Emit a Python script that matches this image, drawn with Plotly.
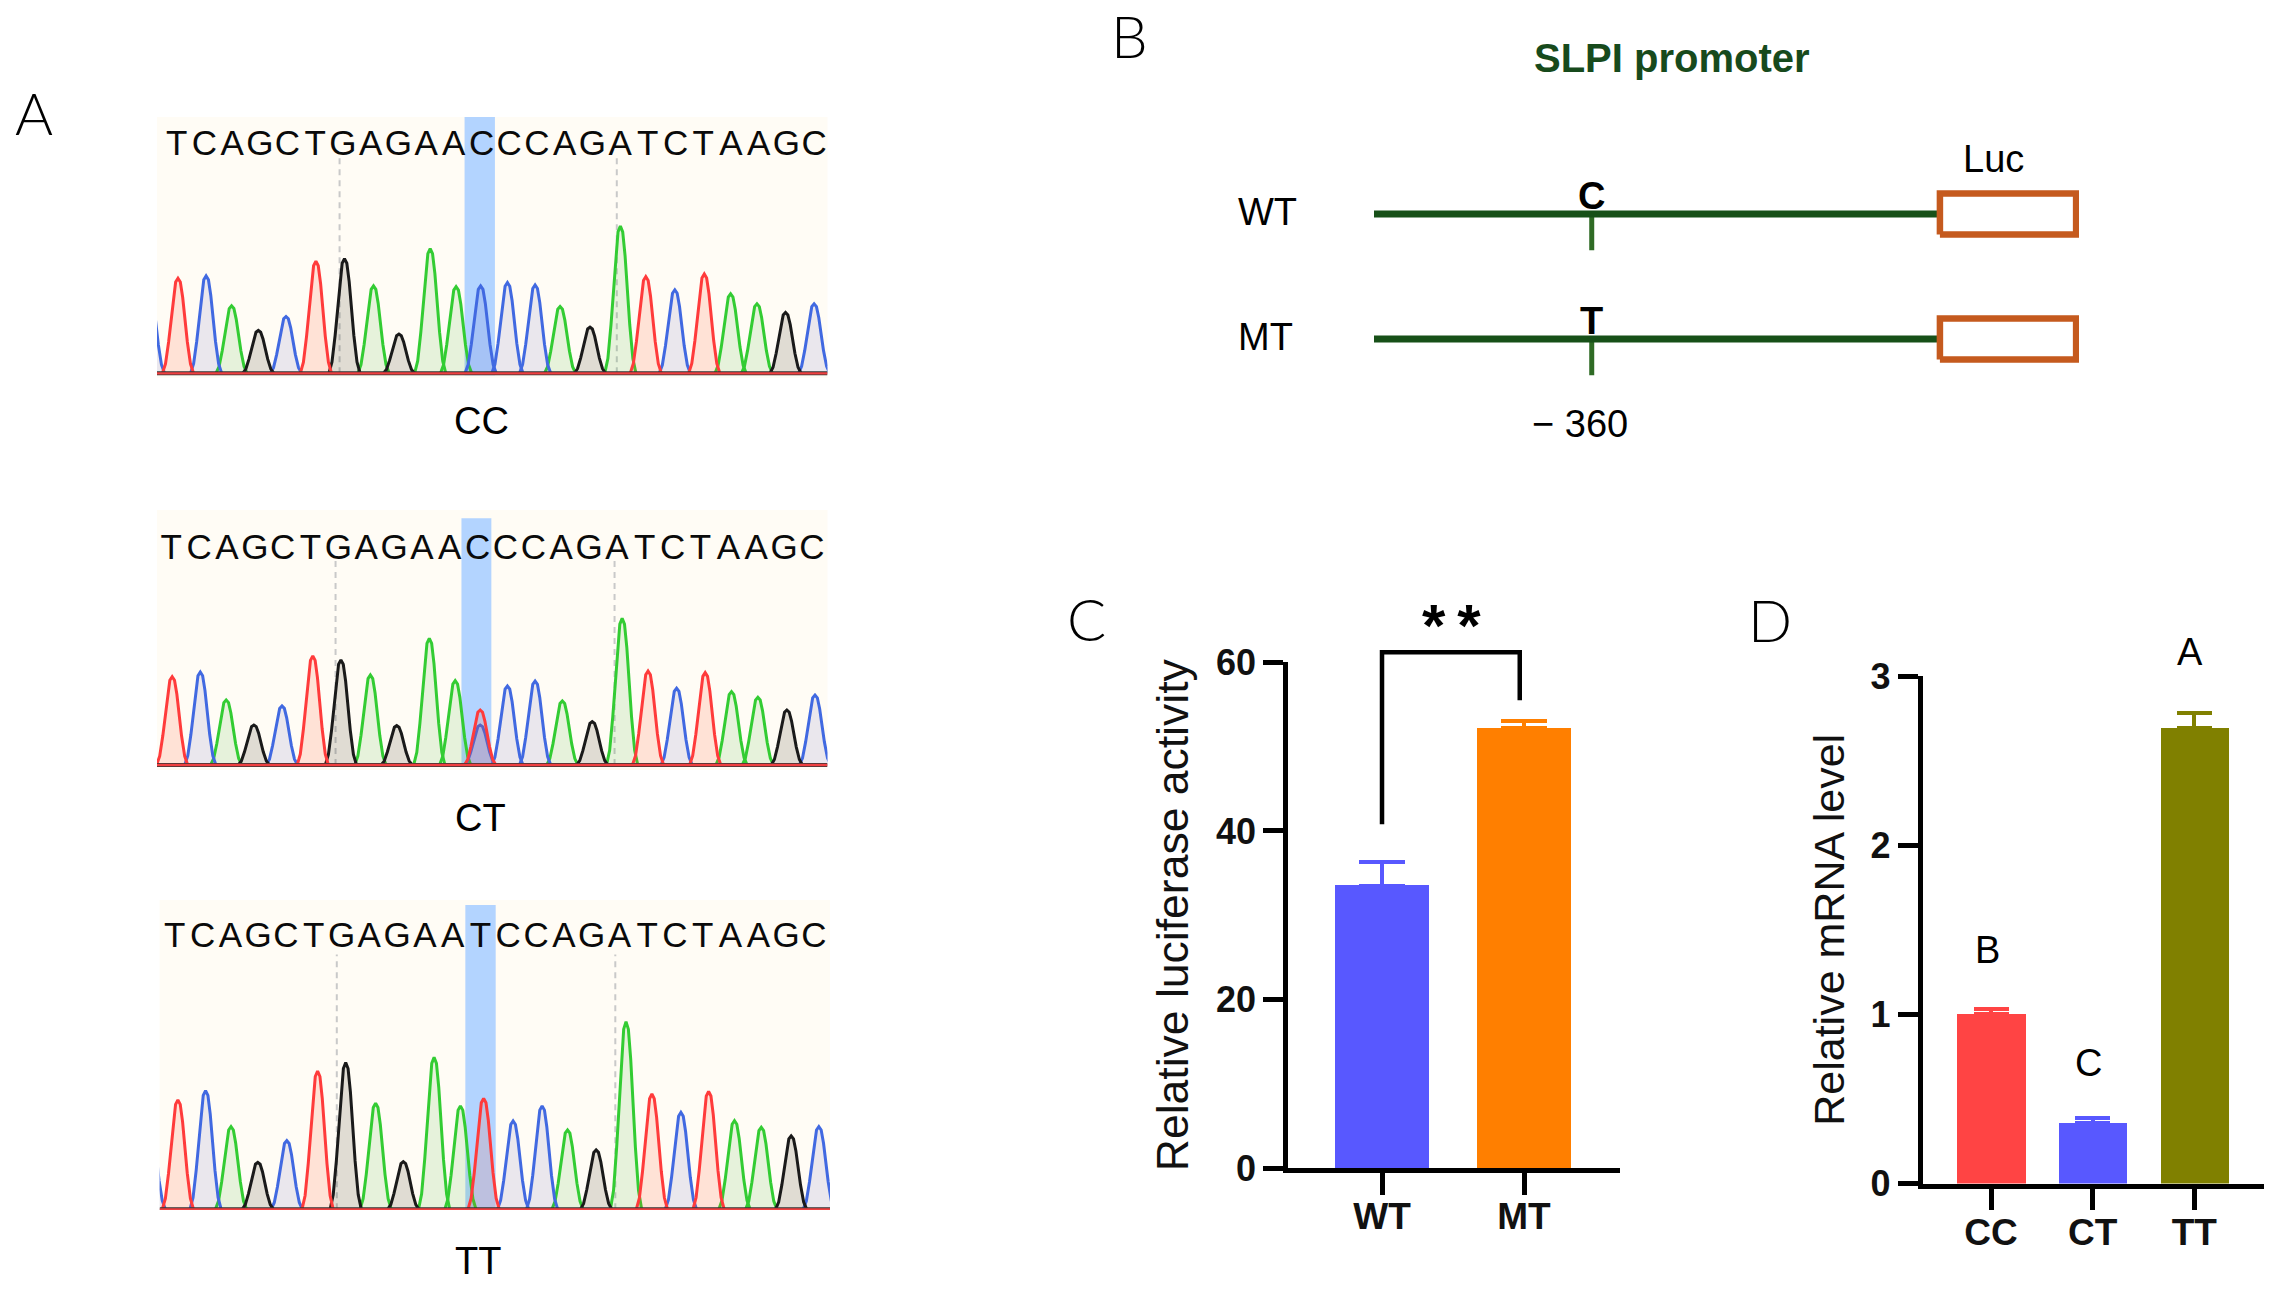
import plotly.graph_objects as go

W, H = 2278, 1291
SANS = "Liberation Sans"

# ---------- Panel A: chromatogram peaks (scan position, signal, base colour) ----------
CC_X = [20, 85, 148, 205, 265, 327, 394, 458, 523, 580, 650, 708, 763, 823, 885, 941, 1008, 1076, 1133, 1198, 1264, 1323, 1382, 1446, 1510]
CC_H = [261, 286, 293, 203, 129, 171, 337, 345, 263, 118, 375, 261, 263, 273, 266, 201, 139, 443, 291, 251, 299, 239, 209, 183, 209]
CC_B = "BRBGKBRKGKGGBBBGKGRBRGGKB"
CC_SEQ = "TCAGCTGAGAACCCAGATCTAAGC"
CC_DASH = [447, 1068]

CT_X = [72, 135, 193, 255, 318, 387, 450, 516, 575, 648, 706, 762, 762, 823, 885, 946, 1013, 1080, 1138, 1202, 1266, 1325, 1384, 1449, 1512]
CT_H = [265, 279, 195, 120, 177, 327, 315, 270, 118, 380, 253, 120, 165, 237, 252, 192, 130, 440, 282, 230, 277, 220, 203, 165, 210]
CT_B = "RBGKBRKGKGGBRBBGKGRBRGGKB"
CT_SEQ = "TCAGCTGAGAACCCAGATCTAAGC"
CT_DASH = [438, 1063]

TT_X = [22, 85, 147, 204, 264, 329, 398, 461, 528, 590, 659, 718, 770, 836, 901, 958, 1022, 1089, 1147, 1212, 1274, 1332, 1392, 1459, 1521]
TT_H = [258, 328, 356, 248, 141, 206, 415, 440, 318, 143, 456, 310, 333, 265, 310, 238, 178, 563, 346, 291, 354, 266, 246, 220, 248]
TT_B = "BRBGKBRKGKGGRBBGKGRBRGGKB"
TT_SEQ = "TCAGCTGAGAATCCAGATCTAAGC"
TT_DASH = [441, 1065]

GENOTYPE_LABELS = ["CC", "CT", "TT"]

# ---------- Panel B ----------
PROMOTER_ROWS = ["WT", "MT"]
PROMOTER_ALLELES = ["C", "T"]
PROMOTER_START = -587
SNP_POSITION = -360
LUC_START = 0
LUC_END = 148

# ---------- Panel C ----------
C_CATS = ["WT", "MT"]
C_VALS = [33.5, 52.2]
C_ERR = [2.8, 0.8]
C_COLORS = ["#5858FF", "#FF7F00"]
C_TICKS = [0, 20, 40, 60]

# ---------- Panel D ----------
D_CATS = ["CC", "CT", "TT"]
D_VALS = [1.0, 0.36, 2.69]
D_ERR = [0.03, 0.03, 0.09]
D_COLORS = ["#FF4444", "#5858FF", "#808000"]
D_LETTERS = ["B", "C", "A"]
D_LETTER_Y = [1.38, 0.71, 3.14]
D_TICKS = [0, 1, 2, 3]

# ---------- styles ----------
LINE = {"R": "#FF3B3B", "B": "#4169E1", "G": "#33CC33", "K": "#1A1A1A"}
FILL = {"R": "rgba(255,70,30,0.14)", "B": "rgba(65,65,170,0.11)", "G": "rgba(50,170,30,0.12)", "K": "rgba(50,40,20,0.15)"}
PROFILE_DX = [-1, -.8, -.6, -.45, -.3, -.15, 0, .15, .3, .45, .6, .8, 1]
PROFILE_F = [0, .1, .33, .56, .8, .96, 1, .96, .8, .56, .33, .1, 0]
PEAK_HALF = 35


def xd(a, b):
    return [a / W, b / W]


def yd(top, bottom):
    return [1 - bottom / H, 1 - top / H]


fig = go.Figure()
layout = dict(
    width=W, height=H, margin=dict(l=0, r=0, t=0, b=0, pad=0, autoexpand=False), autosize=False,
    paper_bgcolor="white", plot_bgcolor="rgba(0,0,0,0)", showlegend=False,
    font=dict(family=SANS, color="black"), shapes=[], annotations=[],
    bargap=0,
)


def hidden(domain, rng):
    return dict(domain=domain, range=rng, visible=False, fixedrange=True)


def chromatogram(i, xs, hs, bases, seq, dash, seq_x, seq_y, px, py, xr, yr, hl, hl_top):
    s = "" if i == 1 else str(i)
    layout[f"xaxis{s}"] = dict(hidden(xd(*px), xr), anchor=f"y{s}")
    layout[f"yaxis{s}"] = dict(hidden(yd(*py), yr), anchor=f"x{s}")
    layout["shapes"].append(dict(type="rect", xref=f"x{s} domain", yref=f"y{s} domain", x0=0, x1=1, y0=0, y1=1,
                                 fillcolor="#FFFCF5", line_width=0, layer="below"))
    layout["shapes"].append(dict(type="rect", xref=f"x{s}", yref=f"y{s}", x0=hl[0], x1=hl[1], y0=yr[0] + 0.6 * (0 - yr[0]), y1=hl_top,
                                 fillcolor="#B3D4FF", line_width=0, layer="below"))
    for d in dash:
        fig.add_trace(go.Scatter(x=[d, d], y=[0, hl_top - 0.16 * yr[1]], mode="lines", xaxis=f"x{s}", yaxis=f"y{s}",
                                 line=dict(color="#C9C9C9", width=2, dash="6px,5px"), hoverinfo="skip"))
    for b in "GBKR":
        px_, py_ = [], []
        for x, h, c in zip(xs, hs, bases):
            if c == b:
                px_ += [x + d * PEAK_HALF for d in PROFILE_DX] + [None]
                py_ += [h * f for f in PROFILE_F] + [None]
        fig.add_trace(go.Scatter(x=px_, y=py_, mode="lines", fill="toself", fillcolor=FILL[b], xaxis=f"x{s}", yaxis=f"y{s}",
                                 line=dict(color=LINE[b], width=3), hoverinfo="skip"))
    fig.add_trace(go.Scatter(x=xr, y=[0, 0], mode="lines", xaxis=f"x{s}", yaxis=f"y{s}", line=dict(color="#333333", width=4), hoverinfo="skip"))
    fig.add_trace(go.Scatter(x=xr, y=[0, 0], mode="lines", xaxis=f"x{s}", yaxis=f"y{s}", line=dict(color="#F04040", width=2.4), hoverinfo="skip"))
    step = (seq_x[1] - seq_x[0]) / (len(seq) - 1)
    fig.add_trace(go.Scatter(x=[seq_x[0] + k * step for k in range(len(seq))], y=[seq_y] * len(seq), text=list(seq),
                             mode="text", textposition="middle center", xaxis=f"x{s}", yaxis=f"y{s}",
                             textfont=dict(family=SANS, size=35, color="#0A0A0A"), hoverinfo="skip"))


chromatogram(1, CC_X, CC_H, CC_B, CC_SEQ, CC_DASH, (82, 1510), 683, (157, 827.5), (117, 378), [38, 1540], [-14, 771], (727, 795), 771)
chromatogram(2, CT_X, CT_H, CT_B, CT_SEQ, CT_DASH, (70, 1505), 645, (157, 827.5), (510, 770), [38, 1540], [-15, 765], (720, 787), 740)
chromatogram(3, TT_X, TT_H, TT_B, TT_SEQ, TT_DASH, (78, 1510), 814, (159.6, 830), (900, 1210), [44, 1546], [-2, 928], (729, 797), 913)


def note(x, y, text, size, xref="paper", yref="paper", bold=False, color="black", family=SANS, weight=None):
    f = dict(family=family, size=size, color=color)
    if bold:
        f["weight"] = "bold"
    if weight:
        f["weight"] = weight
    if xref == "paper":
        x = x / W
    if yref == "paper":
        y = 1 - y / H
    layout["annotations"].append(dict(x=x, y=y, xref=xref, yref=yref, text=text, showarrow=False, font=f,
                                      xanchor="center", yanchor="middle"))


for label, (lx, ly) in zip(GENOTYPE_LABELS, [(481, 421), (480, 818), (478, 1261)]):
    note(lx, ly, label, 38)

for label, (lx, ly) in zip("ABCD", [(34, 113), (1129, 36), (1086, 618), (1770, 619)]):
    note(lx, ly, label, 58, family="Lato", weight=300)

# ---------- Panel B ----------
layout["xaxis4"] = dict(hidden(xd(1374, 2079), [PROMOTER_START, LUC_END]), anchor="y4")
layout["yaxis4"] = dict(hidden(yd(170, 400), [-0.488, 1.352]), anchor="x4")
for row_y, label, allele in zip([1, 0], PROMOTER_ROWS, PROMOTER_ALLELES):
    fig.add_trace(go.Scatter(x=[SNP_POSITION, SNP_POSITION], y=[row_y, row_y - 0.29], mode="lines", xaxis="x4", yaxis="y4",
                             line=dict(color="#2F6B25", width=5), hoverinfo="skip"))
    fig.add_trace(go.Scatter(x=[PROMOTER_START, LUC_START], y=[row_y, row_y], mode="lines", xaxis="x4", yaxis="y4",
                             line=dict(color="#175018", width=7), hoverinfo="skip"))
    fig.add_trace(go.Scatter(x=[LUC_START + 3, LUC_END - 3, LUC_END - 3, LUC_START + 3, LUC_START + 3],
                             y=[row_y - 0.164, row_y - 0.164, row_y + 0.164, row_y + 0.164, row_y - 0.164],
                             mode="lines", xaxis="x4", yaxis="y4", fill="toself", fillcolor="white",
                             line=dict(color="#C55A1E", width=6.5), hoverinfo="skip"))
    note(SNP_POSITION, row_y + 0.145, allele, 38, xref="x4", yref="y4", bold=True)
note(1672, 58, "SLPI promoter", 40, bold=True, color="#174A1C")
note(1267, 212, "WT", 38)
note(1265, 337, "MT", 38)
note(1993, 159, "Luc", 38)
note(1580, 424, "− 360", 38)


# ---------- Panels C, D ----------
def bar_axes(i, px, py, xr, yr, cats, ticks, title, tsize, standoff):
    s = str(i)
    layout[f"xaxis{s}"] = dict(domain=xd(*px), range=xr, anchor=f"y{s}", tickmode="array", tickvals=list(range(len(cats))), ticktext=cats,
                               showline=True, linecolor="black", linewidth=4.5, ticks="outside", ticklen=22, tickwidth=4.5,
                               tickcolor="black", showgrid=False, zeroline=False, fixedrange=True, automargin=False,
                               ticklabelstandoff=-10,
                               tickfont=dict(family=SANS, size=37, weight="bold", color="#111111"))
    layout[f"yaxis{s}"] = dict(domain=yd(*py), range=yr, anchor=f"x{s}", tickmode="array", tickvals=ticks, ticktext=[str(t) for t in ticks],
                               showline=True, linecolor="black", linewidth=4.5, ticks="outside", ticklen=20, tickwidth=4.5,
                               tickcolor="black", showgrid=False, zeroline=False, fixedrange=True, automargin=False,
                               tickfont=dict(family=SANS, size=36, weight="bold", color="#111111"),
                               title=dict(text=title, font=dict(family=SANS, size=tsize, color="#111111"), standoff=standoff))


bar_axes(5, (1288, 1620), (662.4, 1168), [-0.662, 1.676], [0, 60], C_CATS, C_TICKS, "Relative luciferase activity", 44.5, 15)
bar_axes(6, (1922.5, 2264), (676, 1183.6), [-0.675, 2.686], [0, 3], D_CATS, D_TICKS, "Relative mRNA level", 43, 14)

# hidden axes sharing the same scale as C and D, with headroom above the drawn axis line
layout["xaxis7"] = dict(hidden(xd(1288, 1620), [-0.662, 1.676]), anchor="y7")
layout["yaxis7"] = dict(hidden(yd(590, 1168), [0, 60 * (1168 - 590) / (1168 - 662.4)]), anchor="x7")
layout["xaxis8"] = dict(hidden(xd(1922.5, 2264), [-0.675, 2.686]), anchor="y8")
layout["yaxis8"] = dict(hidden(yd(620, 1183.6), [0, 3 * (1183.6 - 620) / (1183.6 - 676)]), anchor="x8")

for k in range(len(C_CATS)):
    fig.add_trace(go.Bar(x=[k], y=[C_VALS[k]], width=0.66, marker=dict(color=C_COLORS[k], line_width=0), xaxis="x5", yaxis="y5",
                         error_y=dict(type="data", symmetric=False, array=[C_ERR[k]], arrayminus=[0], color=C_COLORS[k], thickness=4, width=23),
                         hoverinfo="skip"))
for k in range(len(D_CATS)):
    fig.add_trace(go.Bar(x=[k], y=[D_VALS[k]], width=0.675, marker=dict(color=D_COLORS[k], line_width=0), xaxis="x6", yaxis="y6",
                         error_y=dict(type="data", symmetric=False, array=[D_ERR[k]], arrayminus=[0], color=D_COLORS[k], thickness=4, width=17.5),
                         hoverinfo="skip"))
    note(k - 0.04, D_LETTER_Y[k], D_LETTERS[k], 38, xref="x8", yref="y8")

BRACKET_X = [0, 0, 0.97, 0.97]
BRACKET_Y = [40.8, 61.2, 61.2, 55.5]
fig.add_trace(go.Scatter(x=BRACKET_X, y=BRACKET_Y, mode="lines", xaxis="x7", yaxis="y7",
                         line=dict(color="black", width=4.5), hoverinfo="skip"))
note(0.49, 64.4, "*\u2009*", 60, xref="x7", yref="y7", bold=True)
fig.add_trace(go.Scatter(x=[0], y=[0], mode="markers", xaxis="x8", yaxis="y8", marker=dict(opacity=0), hoverinfo="skip"))

fig.update_layout(**layout)
fig.write_html("out.html", config=dict(displayModeBar=False), post_script="document.body.style.margin='0';")
